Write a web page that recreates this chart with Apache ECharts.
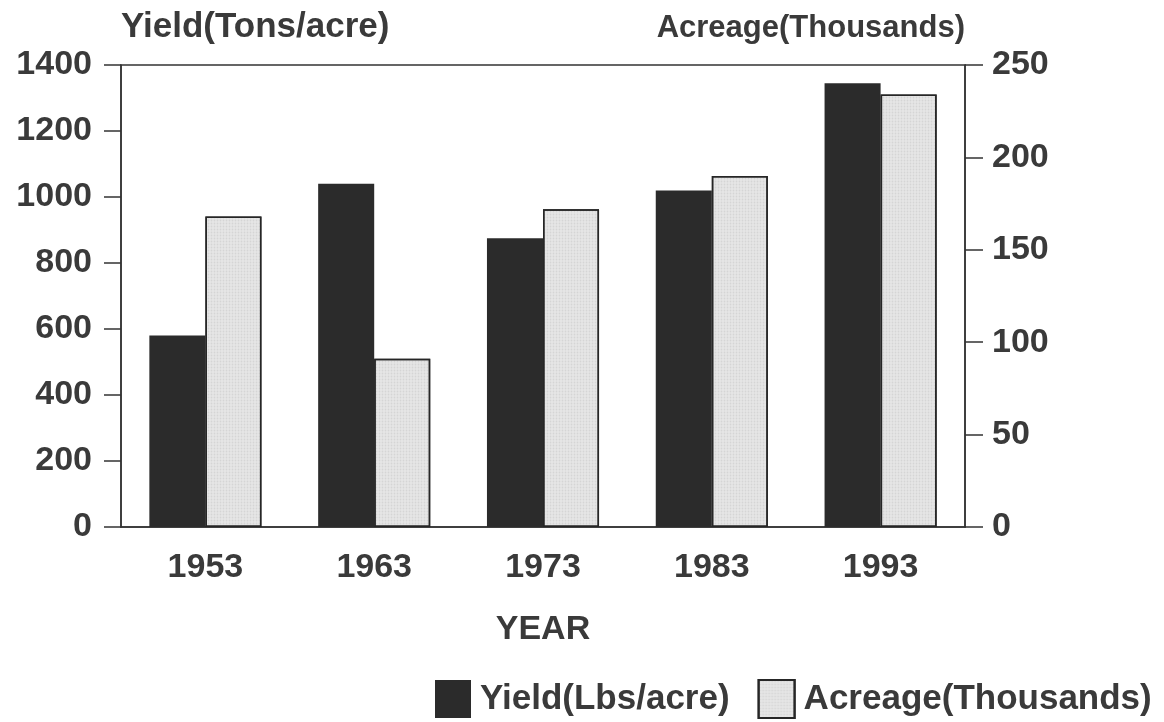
<!DOCTYPE html>
<html>
<head>
<meta charset="utf-8">
<script src="https://cdn.jsdelivr.net/npm/echarts@6/dist/echarts.min.js"></script>
<style>
  html, body { margin: 0; padding: 0; background: #fff; }
  #chart { width: 1164px; height: 722px; }
</style>
</head>
<body>
<div id="chart"></div>
<script>
// data
const years = ['1953', '1963', '1973', '1983', '1993']
const yieldValues = [580, 1040, 875, 1020, 1345]
const acreageValues = [168, 91, 172, 190, 234]
const leftTicks = { min: 0, max: 1400, interval: 200 }
const rightTicks = { min: 0, max: 250, interval: 50 }

const FONT = "'Liberation Sans', Arial, sans-serif"
const INK = '#3a3a3a'

const chart = echarts.init(document.getElementById('chart'))

chart.setOption({
  backgroundColor: '#fff',
  animation: false,
  textStyle: { fontFamily: FONT },
  grid: {
    left: 121,
    right: 199,
    top: 65,
    bottom: 195,
    show: true,
    borderColor: '#333',
    borderWidth: 1.5,
    backgroundColor: 'transparent',
  },
  legend: {
    left: 435,
    top: 679,
    padding: 0,
    itemWidth: 36,
    itemHeight: 38,
    itemGap: 28,
    icon: 'rect',
    textStyle: {
      fontFamily: FONT,
      fontWeight: 'bold',
      fontSize: 35,
      color: INK,
      padding: [0, 0, 0, 4],
    },
    data: ['Yield(Lbs/acre)', 'Acreage(Thousands)'],
  },
  xAxis: {
    type: 'category',
    data: years,
    name: 'YEAR',
    nameLocation: 'middle',
    nameGap: 86,
    nameTextStyle: { fontFamily: FONT, fontWeight: 'bold', fontSize: 34, color: INK },
    axisLine: { lineStyle: { color: '#333', width: 1.5 } },
    axisTick: { alignWithLabel: true, length: 9, lineStyle: { color: '#333', width: 1.5 } },
    axisLabel: { margin: 24, fontFamily: FONT, fontWeight: 'bold', fontSize: 34, color: INK },
    splitLine: { show: false },
  },
  yAxis: [
    {
      type: 'value',
      min: leftTicks.min,
      max: leftTicks.max,
      interval: leftTicks.interval,
      name: 'Yield(Tons/acre)',
      nameLocation: 'end',
      nameGap: 20,
      nameTextStyle: {
        fontFamily: FONT, fontWeight: 'bold', fontSize: 35, color: INK,
        align: 'left', verticalAlign: 'bottom',
      },
      axisLine: { show: true, lineStyle: { color: '#333', width: 1.5 } },
      axisTick: { show: true, length: 17, lineStyle: { color: '#333', width: 1.5 } },
      axisLabel: {
        margin: 29, fontFamily: FONT, fontWeight: 'bold', fontSize: 34, color: INK,
        formatter: (v) => String(v),
      },
      splitLine: { show: false },
    },
    {
      type: 'value',
      position: 'right',
      min: rightTicks.min,
      max: rightTicks.max,
      interval: rightTicks.interval,
      name: 'Acreage(Thousands)',
      nameLocation: 'end',
      nameGap: 21,
      nameTextStyle: {
        fontFamily: FONT, fontWeight: 'bold', fontSize: 31, color: INK,
        align: 'right', verticalAlign: 'bottom',
      },
      axisLine: { show: true, lineStyle: { color: '#333', width: 1.5 } },
      axisTick: { show: true, length: 18, lineStyle: { color: '#333', width: 1.5 } },
      axisLabel: {
        margin: 27, fontFamily: FONT, fontWeight: 'bold', fontSize: 34, color: INK,
        formatter: (v) => String(v),
      },
      splitLine: { show: false },
    },
  ],
  series: [
    {
      name: 'Yield(Lbs/acre)',
      type: 'bar',
      yAxisIndex: 0,
      data: yieldValues,
      barGap: '0%',
      barCategoryGap: '33.6%',
      itemStyle: { color: '#2b2b2b' },
    },
    {
      name: 'Acreage(Thousands)',
      type: 'bar',
      yAxisIndex: 1,
      data: acreageValues,
      itemStyle: {
        color: '#e6e6e6',
        borderColor: '#262626',
        borderWidth: 1.5,
        decal: {
          symbol: 'circle',
          symbolSize: 0.6,
          color: 'rgba(0,0,0,0.07)',
          dashArrayX: [3, 0],
          dashArrayY: [3, 0],
        },
      },
    },
  ],
})
</script>
</body>
</html>
